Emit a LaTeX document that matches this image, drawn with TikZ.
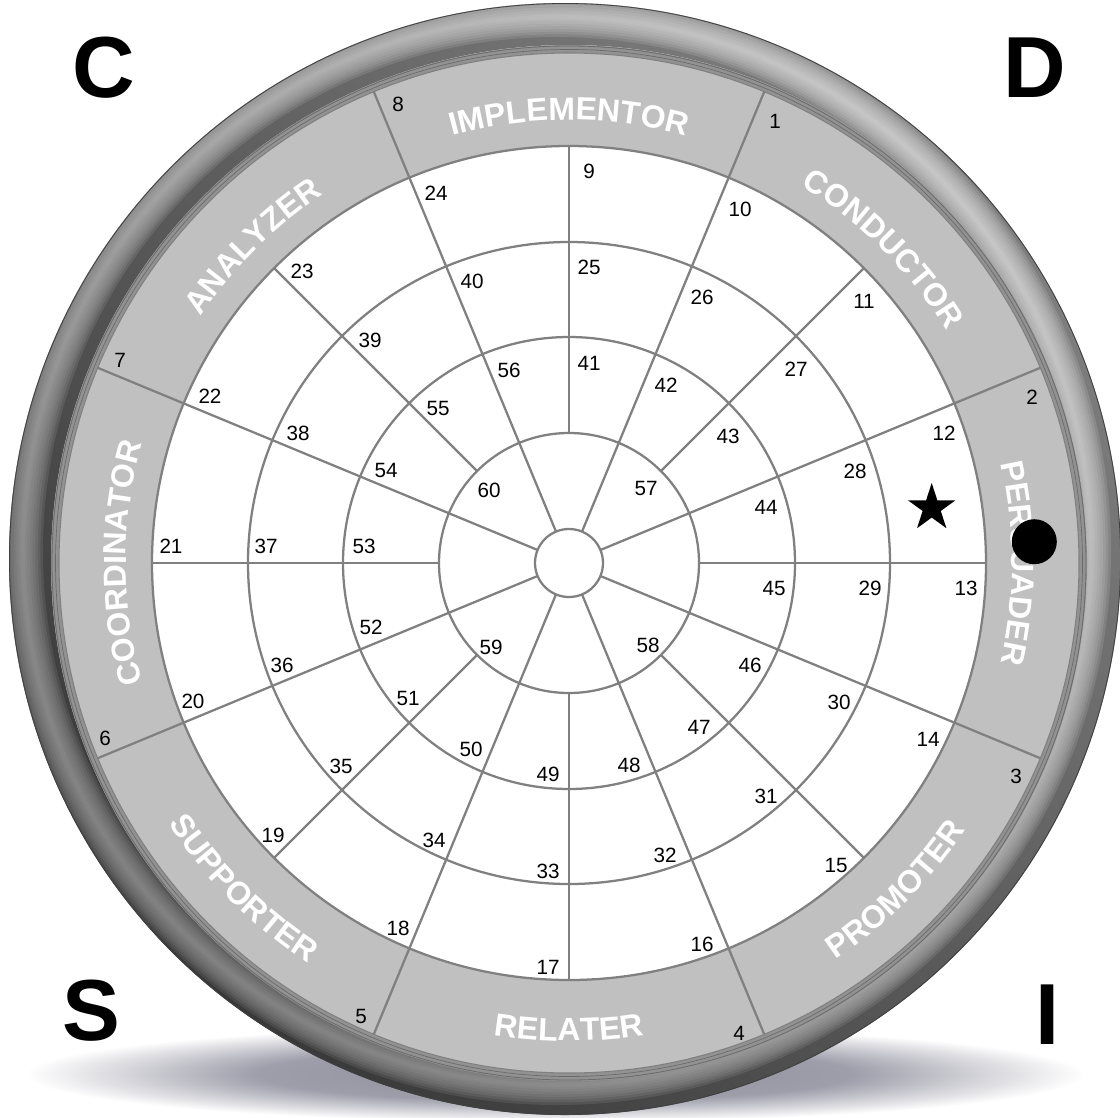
\documentclass[tikz,border=0pt]{standalone}
\usepackage{fontspec}
\setmainfont{Liberation Sans}
\usetikzlibrary{shapes.geometric,decorations.text}
\definecolor{bandgray}{HTML}{C0C0C0}
\definecolor{linegray}{HTML}{808080}
\definecolor{rimbase}{HTML}{4E4E4E}
\definecolor{rimlight}{HTML}{D2D2D2}
\definecolor{borderc}{HTML}{929292}
\definecolor{borderline}{HTML}{6A6A6A}
\pgfdeclareradialshading{floorshadow}{\pgfpoint{0bp}{0bp}}{rgb(0bp)=(0.56,0.56,0.61); rgb(14bp)=(0.62,0.62,0.67); rgb(25bp)=(1,1,1); rgb(50bp)=(1,1,1)}
\newcommand\bandfont{\fontsize{24}{24}\selectfont\bfseries}
\begin{document}
\begin{tikzpicture}[x=0.75pt,y=-0.75pt,
  ringline/.style={draw=linegray, line width=1.7pt},
  num/.style={font=\fontsize{15.5}{16}\selectfont, inner sep=0pt, text=black},
  corner/.style={font=\fontsize{65}{65}\selectfont\bfseries, inner sep=0pt, text=black},
  glow/.style={draw=rimlight, opacity=0.17, line width=#1},
  bandtext/.style={decorate, decoration={text along path, text align=center, text color=white, text={|\bandfont|#1}}}]
% canvas
\fill[white] (0,0) rectangle (1120,1117);
\useasboundingbox (0,0) rectangle (1120,1117);
% floor shadow
\shade[shading=floorshadow] (555,1074) ellipse [x radius=530, y radius=48];
% rim
\fill[rimbase, even odd rule] (565,559) circle (556) (569,563) circle (518);
\begin{scope}
  \clip (565,559) circle (556);
  \foreach \w in {30,26,22,18,14,10,6,3}
    \draw[glow=\w pt] (557,551) circle (534);
  \shade[left color=white, right color=black, shading angle=-45, opacity=0.28] (0,0) rectangle (1120,1117);
\end{scope}
\draw[black!75, line width=0.6pt] (565,559) circle (555.5);
% border ring and band
\fill[borderc] (569,563) circle (518);
\draw[borderline, line width=0.6pt] (569,563) circle (517);
\draw[borderline, line width=0.5pt] (569,563) circle (513.5);
\fill[bandgray] (569,563) circle (510);
\draw[linegray, line width=0.8pt] (569,563) circle (510);
\fill[white] (569,563) circle (417);
% rings
\foreach \r in {130,226,321,417} \draw[ringline] (569,563) circle (\r);
% spokes
\foreach \a in {22.5,67.5,...,337.5}
  \draw[ringline] ({569+34*cos(\a)},{563-34*sin(\a)}) -- ({569+510*cos(\a)},{563-510*sin(\a)});
\foreach \a in {0,45,...,315}
  \draw[ringline] ({569+130*cos(\a)},{563-130*sin(\a)}) -- ({569+417*cos(\a)},{563-417*sin(\a)});
\draw[ringline, fill=white] (569,563) circle (34);
% band labels (clockwise, tops outward)
\path[bandtext=IMPLEMENTOR] ({569+443*cos(112.5)},{563-443*sin(112.5)}) arc[start angle=112.5, end angle=67.5, radius=332.25pt];
\path[bandtext=CONDUCTOR] ({569+443*cos(67.5)},{563-443*sin(67.5)}) arc[start angle=67.5, end angle=22.5, radius=332.25pt];
\path[bandtext=PERSUADER] ({569+443*cos(22.5)},{563-443*sin(22.5)}) arc[start angle=22.5, end angle=-22.5, radius=332.25pt];
\path[bandtext=COORDINATOR] ({569+443*cos(202.5)},{563-443*sin(202.5)}) arc[start angle=202.5, end angle=157.5, radius=332.25pt];
\path[bandtext=ANALYZER] ({569+443*cos(157.5)},{563-443*sin(157.5)}) arc[start angle=157.5, end angle=112.5, radius=332.25pt];
% band labels (counterclockwise, tops inward)
\path[bandtext=PROMOTER] ({569+478*cos(-67.5)},{563-478*sin(-67.5)}) arc[start angle=-67.5, end angle=-22.5, radius=358.5pt];
\path[bandtext=RELATER] ({569+478*cos(-112.5)},{563-478*sin(-112.5)}) arc[start angle=-112.5, end angle=-67.5, radius=358.5pt];
\path[bandtext=SUPPORTER] ({569+478*cos(-157.5)},{563-478*sin(-157.5)}) arc[start angle=-157.5, end angle=-112.5, radius=358.5pt];
% band numbers
\node[num] (n1) at (775,121) {1};
\node[num] (n2) at (1032,397) {2};
\node[num] (n3) at (1016,776) {3};
\node[num] (n4) at (739,1033) {4};
\node[num] (n5) at (361,1016) {5};
\node[num] (n6) at (105,738) {6};
\node[num] (n7) at (120,360) {7};
\node[num] (n8) at (398,104) {8};
% outer white ring
\node[num] (n9) at (589,171) {9};
\node[num] (n10) at (740,209) {10};
\node[num] (n11) at (864,301) {11};
\node[num] (n12) at (944,433) {12};
\node[num] (n13) at (966,588) {13};
\node[num] (n14) at (928,739) {14};
\node[num] (n15) at (836,865) {15};
\node[num] (n16) at (702,944) {16};
\node[num] (n17) at (548,967) {17};
\node[num] (n18) at (398,928) {18};
\node[num] (n19) at (273,835) {19};
\node[num] (n20) at (193,701) {20};
\node[num] (n21) at (171,546) {21};
\node[num] (n22) at (210,396) {22};
\node[num] (n23) at (302,271) {23};
\node[num] (n24) at (436,193) {24};
% third ring
\node[num] (n25) at (589,267) {25};
\node[num] (n26) at (702,297) {26};
\node[num] (n27) at (796,369) {27};
\node[num] (n28) at (855,471) {28};
\node[num] (n29) at (870,588) {29};
\node[num] (n30) at (839,702) {30};
\node[num] (n31) at (766,796) {31};
\node[num] (n32) at (665,855) {32};
\node[num] (n33) at (548,871) {33};
\node[num] (n34) at (434,840) {34};
\node[num] (n35) at (341,766) {35};
\node[num] (n36) at (282,665) {36};
\node[num] (n37) at (266,546) {37};
\node[num] (n38) at (298,433) {38};
\node[num] (n39) at (370,340) {39};
\node[num] (n40) at (472,281) {40};
% second ring
\node[num] (n41) at (589,363) {41};
\node[num] (n42) at (666,385) {42};
\node[num] (n43) at (728,436) {43};
\node[num] (n44) at (766,507) {44};
\node[num] (n45) at (774,588) {45};
\node[num] (n46) at (750,665) {46};
\node[num] (n47) at (699,727) {47};
\node[num] (n48) at (629,765) {48};
\node[num] (n49) at (548,774) {49};
\node[num] (n50) at (471,749) {50};
\node[num] (n51) at (408,698) {51};
\node[num] (n52) at (371,627) {52};
\node[num] (n53) at (364,546) {53};
\node[num] (n54) at (386,470) {54};
\node[num] (n55) at (438,408) {55};
\node[num] (n56) at (509,370) {56};
% inner ring
\node[num] (n57) at (646,488) {57};
\node[num] (n58) at (648,645) {58};
\node[num] (n59) at (491,647) {59};
\node[num] (n60) at (489,490) {60};
% markers
\node[star, star points=5, star point ratio=2.618, fill=black, inner sep=0pt, minimum size=37.5pt] (star) at (931.7,508) {};
\node[circle, fill=black, inner sep=0pt, minimum size=33.75pt] (dot) at (1034.3,541.7) {};
% corner letters
\node[corner] (C) at (104,68) {C};
\node[corner] (D) at (1035,68) {D};
\node[corner] (S) at (91,1011) {S};
\node[corner] (I) at (1047.5,1015) {I};
\end{tikzpicture}
\end{document}
